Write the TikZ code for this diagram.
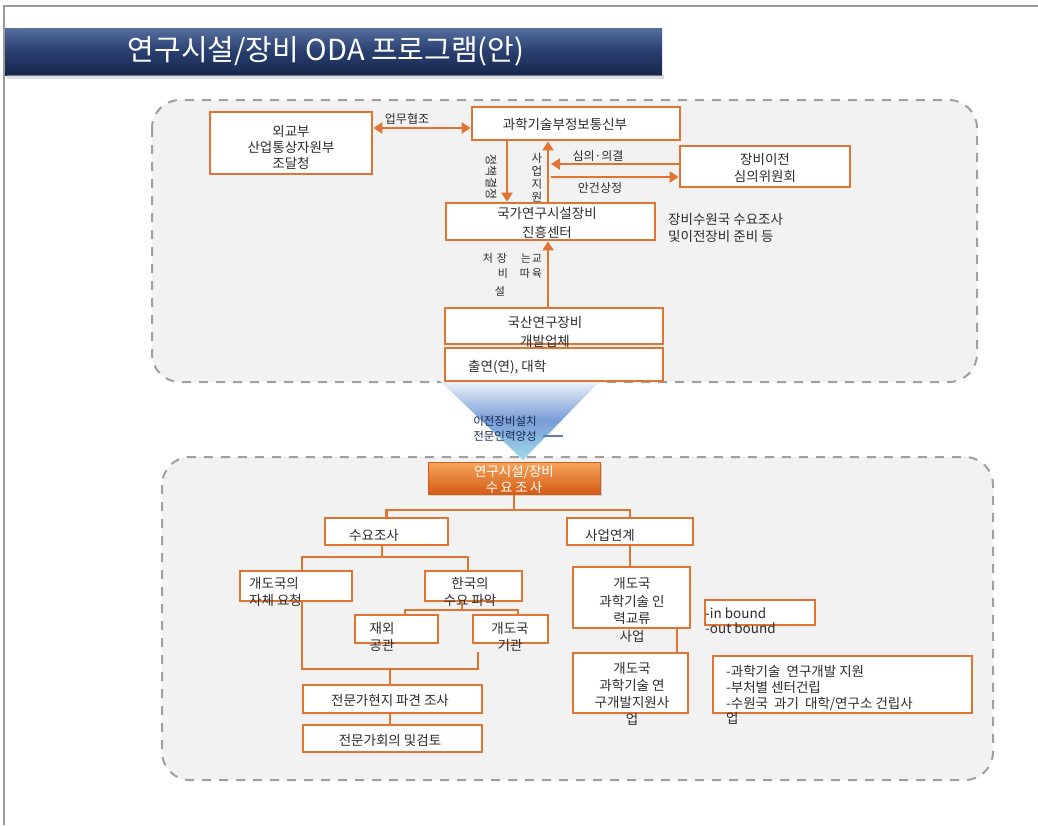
\documentclass[tikz,border=0pt]{standalone}
\usepackage{fontspec}
\setmainfont{Noto Sans CJK KR}
\usetikzlibrary{arrows.meta,shadows,calc}
\definecolor{ocol}{RGB}{226,116,50}
\definecolor{tcol}{RGB}{45,45,45}
\definecolor{dcol}{RGB}{160,160,160}
\definecolor{bgc}{RGB}{242,242,242}
\definecolor{navyA}{RGB}{84,110,158}
\definecolor{navyB}{RGB}{40,62,110}
\definecolor{navyC}{RGB}{24,40,78}
\definecolor{funA}{RGB}{236,242,250}
\definecolor{funB}{RGB}{120,156,214}
\definecolor{funC}{RGB}{160,220,236}
\definecolor{oA}{RGB}{246,164,92}
\definecolor{oB}{RGB}{212,92,22}
\begin{document}
\begin{tikzpicture}[x=1pt,y=-1pt,
  ob/.style={draw=ocol,line width=2.8pt,fill=white,inner sep=0pt},
  conn/.style={draw=ocol,line width=2.8pt},
  arr/.style={draw=ocol,line width=2.8pt,-{Triangle[length=9pt,width=11pt]}},
  arrb/.style={draw=ocol,line width=2.8pt,{Triangle[length=9pt,width=11pt]}-{Triangle[length=9pt,width=11pt]}},
  txt/.style={font=\fontsize{13.5}{17}\selectfont,text=tcol,inner sep=0pt,align=center},
  stxt/.style={font=\fontsize{12}{14}\selectfont,text=tcol,inner sep=0pt,align=center},
  dbox/.style={draw=dcol,line width=2pt,dash pattern=on 9pt off 8pt,fill=bgc,rounded corners=28pt}]
\useasboundingbox (0,0) rectangle (1038,825);
% frame
\draw[gray!80,line width=1.5pt] (1038,6) -- (4,6) -- (4,825);
% title bar
\shade[top color=navyA,bottom color=navyC,middle color=navyB] (5,28) rectangle (662,75);
\fill[black!25,opacity=0.5] (7,75) rectangle (664,79);
\node[font=\fontsize{29}{32}\selectfont,text=white,inner sep=0pt] (title) at (326,51) {연구시설/장비 ODA 프로그램(안)};
% dashed areas
\draw[dbox] (152,100) rectangle (977,382);
\draw[dbox] (162,457) rectangle (993,780);
% funnel
\shade[top color=funA,bottom color=funC,middle color=funB] (440,381) -- (600,381) -- (523,460) -- cycle;
\draw[draw=funB!80!black,line width=1.5pt] (543,436) -- (563,436);
\node[font=\fontsize{11.5}{15}\selectfont,text=navyC,inner sep=0pt,align=center] (funtxt) at (505,429) {이전장비설치\\전문인력양성};
% ---------- top boxes
\node[ob,minimum width=162,minimum height=62] (fa) at (291,143) {};
\node[txt,font=\fontsize{13.5}{16}\selectfont] (fat) at (291,147) {외교부\\산업통상자원부\\조달청};
\node[ob,minimum width=208,minimum height=33] (msit) at (576,123.5) {};
\node[txt] (msitt) at (565,124) {과학기술부정보통신부};
\node[ob,minimum width=170,minimum height=41] (eq) at (765,166.5) {};
\node[txt] (eqt) at (765,168) {장비이전\\심의위원회};
\node[ob,minimum width=209,minimum height=37] (ctr) at (550.5,221.5) {};
\node[txt,font=\fontsize{13.5}{19}\selectfont] (ctrt) at (547,223) {국가연구시설장비\\진흥센터};
\node[ob,minimum width=218,minimum height=36] (dev) at (554,326) {};
\node[txt,font=\fontsize{13.5}{19}\selectfont] (devt) at (545,332) {국산연구장비\\개발업체};
\node[ob,minimum width=218,minimum height=33] (univ) at (554,364.5) {};
\node[txt,anchor=west] (univt) at (468,367) {출연(연), 대학};
\node[txt,anchor=west,align=left] (prep) at (668,228) {장비수원국 수요조사\\및이전장비 준비 등};
% top arrows
\coordinate (ycoop) at (0,128);
\draw[arrb] (fa.east |- ycoop) -- (msit.west |- ycoop);
\node[stxt] (coopt) at (407,119) {업무협조};
\coordinate (xp) at (507,0);
\coordinate (xs) at (548,0);
\draw[arr] (msit.south -| xp) -- (ctr.north -| xp);
\draw[arr] (ctr.north -| xs) -- (msit.south -| xs);
\node[stxt,rotate=-90] (polt) at (491,177) {정책결정};
\node[stxt,font=\fontsize{11.5}{13}\selectfont] (supt) at (537,178) {사\\업\\지\\원};
\coordinate (q1) at (551,164);
\coordinate (q2) at (551,177);
\draw[arr] (eq.west |- q1) -- (q1);
\draw[arr] (q2) -- (eq.west |- q2);
\node[stxt] (q1t) at (598,156) {심의·의결};
\node[stxt] (q2t) at (600,188) {안건상정};
\draw[arr] (dev.north -| xs) -- (ctr.south -| xs);
\begin{scope}[every node/.style={stxt,font=\fontsize{11}{13}\selectfont}]
\node (la) at (488,258) {처};
\node (lb) at (502,258) {장};
\node (lc) at (526,258) {는};
\node (ld) at (537,258) {교};
\node (le) at (503,273) {비};
\node (lf) at (525,273) {따};
\node (lg) at (537,273) {육};
\node (lh) at (500,291) {설};
\end{scope}
% ---------- bottom boxes
\node[draw=oB,line width=1pt,top color=oA,bottom color=oB,minimum width=172,minimum height=32,inner sep=0pt,drop shadow={opacity=0.3,shadow xshift=2pt,shadow yshift=-2pt}] (hdr) at (514,478) {};
\node[txt,text=white,font=\fontsize{13.5}{16}\selectfont] (hdrt) at (514,479) {연구시설/장비\\수\,요\,조\,사};
\node[ob,minimum width=123,minimum height=27] (dem) at (386.5,531.5) {};
\node[txt] (demt) at (374,535) {수요조사};
\node[ob,minimum width=126,minimum height=27] (biz) at (630,531.5) {};
\node[txt] (bizt) at (610,535) {사업연계};
\node[ob,minimum width=112,minimum height=30] (req) at (296,586) {};
\node[txt,anchor=west,align=left] (reqt) at (249,592) {개도국의\\자체 요청};
\node[ob,minimum width=97,minimum height=30] (kor) at (473.5,586) {};
\node[txt] (kort) at (470,592) {한국의\\수요 파악};
\node[ob,minimum width=83,minimum height=28] (emb) at (396.5,629) {};
\node[txt] (embt) at (382,637) {재외\\공관};
\node[ob,minimum width=75,minimum height=28] (agc) at (510.5,629) {};
\node[txt] (agct) at (510,637) {개도국\\기관};
\node[ob,minimum width=179,minimum height=28] (fld) at (392.5,699) {};
\node[txt] (fldt) at (390,700) {전문가현지 파견 조사};
\node[ob,minimum width=179,minimum height=27] (mtg) at (392.5,738.5) {};
\node[txt] (mtgt) at (390,740) {전문가회의 및검토};
\node[ob,minimum width=117,minimum height=61] (hr) at (631.5,597.5) {};
\node[txt,font=\fontsize{13.5}{17.5}\selectfont] (hrt) at (632,610) {개도국\\과학기술 인\\력교류\\사업};
\node[ob,minimum width=110,minimum height=25] (iob) at (760,612.5) {};
\node[txt,anchor=west,align=left,font=\fontsize{13.5}{15}\selectfont] (iobt) at (705,621) {-in bound\\-out bound};
\node[ob,minimum width=115,minimum height=60] (rd) at (630.5,683) {};
\node[txt,font=\fontsize{13.5}{17}\selectfont] (rdt) at (632,694) {개도국\\과학기술 연\\구개발지원사\\업};
\node[ob,minimum width=259,minimum height=57] (rdl) at (842.5,684.5) {};
\node[txt,anchor=west,align=left,font=\fontsize{13.5}{15.7}\selectfont] (rdlt) at (726,695) {-과학기술\ \ 연구개발 지원\\-부처별 센터건립\\-수원국\ \ 과기\ \ 대학/연구소 건립사\\업};
% bottom connectors
\coordinate (j1) at (514,510);
\draw[conn] (hdr.south) -- (j1);
\draw[conn] (dem.north) |- (j1) -| (biz.north);
\coordinate (j2) at (382,557);
\coordinate (j2l) at (302,557);
\coordinate (j2r) at (468,557);
\draw[conn] (dem.south -| j2) -- (j2);
\draw[conn] (req.north -| j2l) -- (j2l) -- (j2r) -- (kor.north -| j2r);
\coordinate (j3) at (462,610);
\coordinate (j3l) at (405,610);
\coordinate (j3r) at (518,610);
\draw[conn] (kor.south -| j3) -- (j3);
\draw[conn] (emb.north -| j3l) -- (j3l) -- (j3r) -- (agc.north -| j3r);
\coordinate (j4l) at (302,669);
\coordinate (j4r) at (478,669);
\coordinate (j4t) at (478,652);
\coordinate (j4) at (390,669);
\draw[conn] (req.south -| j4l) -- (j4l) -- (j4r) -- (j4t);
\draw[conn] (j4) -- (fld.north -| j4);
\draw[conn] (fld.south -| j4) -- (mtg.north -| j4);
\draw[conn] (biz.south) -- (hr.north -| biz.south);
\coordinate (j5) at (677,0);
\draw[conn] (hr.south -| j5) -- (rd.north -| j5);
\end{tikzpicture}
\end{document}
